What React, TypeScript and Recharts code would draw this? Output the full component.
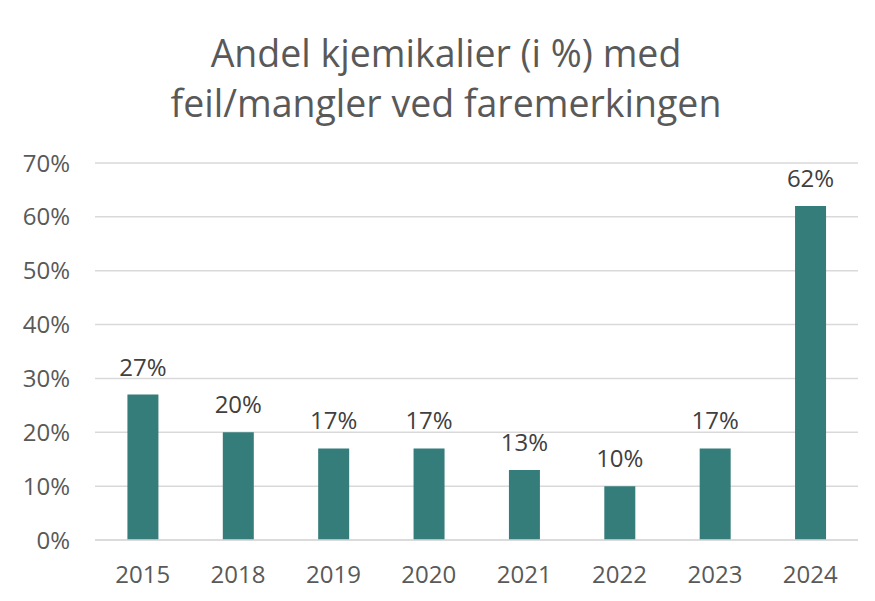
import { BarChart, Bar, XAxis, YAxis, CartesianGrid, LabelList } from 'recharts';

const years = ['2015', '2018', '2019', '2020', '2021', '2022', '2023', '2024'];
const shares = [27, 20, 17, 17, 13, 10, 17, 62];
const yTicks = [0, 10, 20, 30, 40, 50, 60, 70];

const titleLines = ['Andel kjemikalier (i %) med', 'feil/mangler ved faremerkingen'];

const FONT = '"Open Sans", sans-serif';

export default function App() {
  const data = years.map((year, i) => ({ year, share: shares[i] }));

  return (
    <div style={{ position: 'relative', width: 875, height: 601, margin: -8, overflow: 'hidden', background: '#fff', fontFamily: FONT }}>
      <div style={{ position: 'absolute', left: 6, top: 7, width: 900, height: 620, border: '1.5px solid #d9d9d9', boxSizing: 'border-box' }} />
      {titleLines.map((line, i) => (
        <div
          key={i}
          style={{
            position: 'absolute',
            left: 46,
            width: 800,
            top: 28 + i * 50,
            textAlign: 'center',
            fontSize: 37.5,
            lineHeight: '50px',
            color: '#595959',
            whiteSpace: 'nowrap',
          }}
        >
          {line}
        </div>
      ))}
      <div style={{ position: 'absolute', left: 0, top: 0 }}>
        <BarChart
          width={875}
          height={601}
          data={data}
          margin={{ top: 163, right: 17, bottom: 0, left: 0 }}
          barCategoryGap="34%"
        >
          <CartesianGrid vertical={false} stroke="#d9d9d9" strokeWidth={1.5} />
          <XAxis
            dataKey="year"
            height={61}
            tickLine={false}
            tickSize={0}
            tickMargin={26}
            axisLine={{ stroke: '#d9d9d9', strokeWidth: 1.5 }}
            tick={{ fill: '#595959', fontSize: 24, fontFamily: FONT }}
          />
          <YAxis
            width={95}
            domain={[0, 70]}
            ticks={yTicks}
            interval={0}
            axisLine={false}
            tickLine={false}
            tickSize={0}
            tickMargin={25}
            tickFormatter={(v: number) => `${v}%`}
            tick={{ fill: '#595959', fontSize: 24, fontFamily: FONT }}
          />
          <Bar dataKey="share" fill="#347d7a" isAnimationActive={false}>
            <LabelList
              dataKey="share"
              position="top"
              offset={19}
              formatter={(v: number) => `${v}%`}
              style={{ fill: '#404040', fontSize: 24, fontFamily: FONT }}
            />
          </Bar>
        </BarChart>
      </div>
    </div>
  );
}
